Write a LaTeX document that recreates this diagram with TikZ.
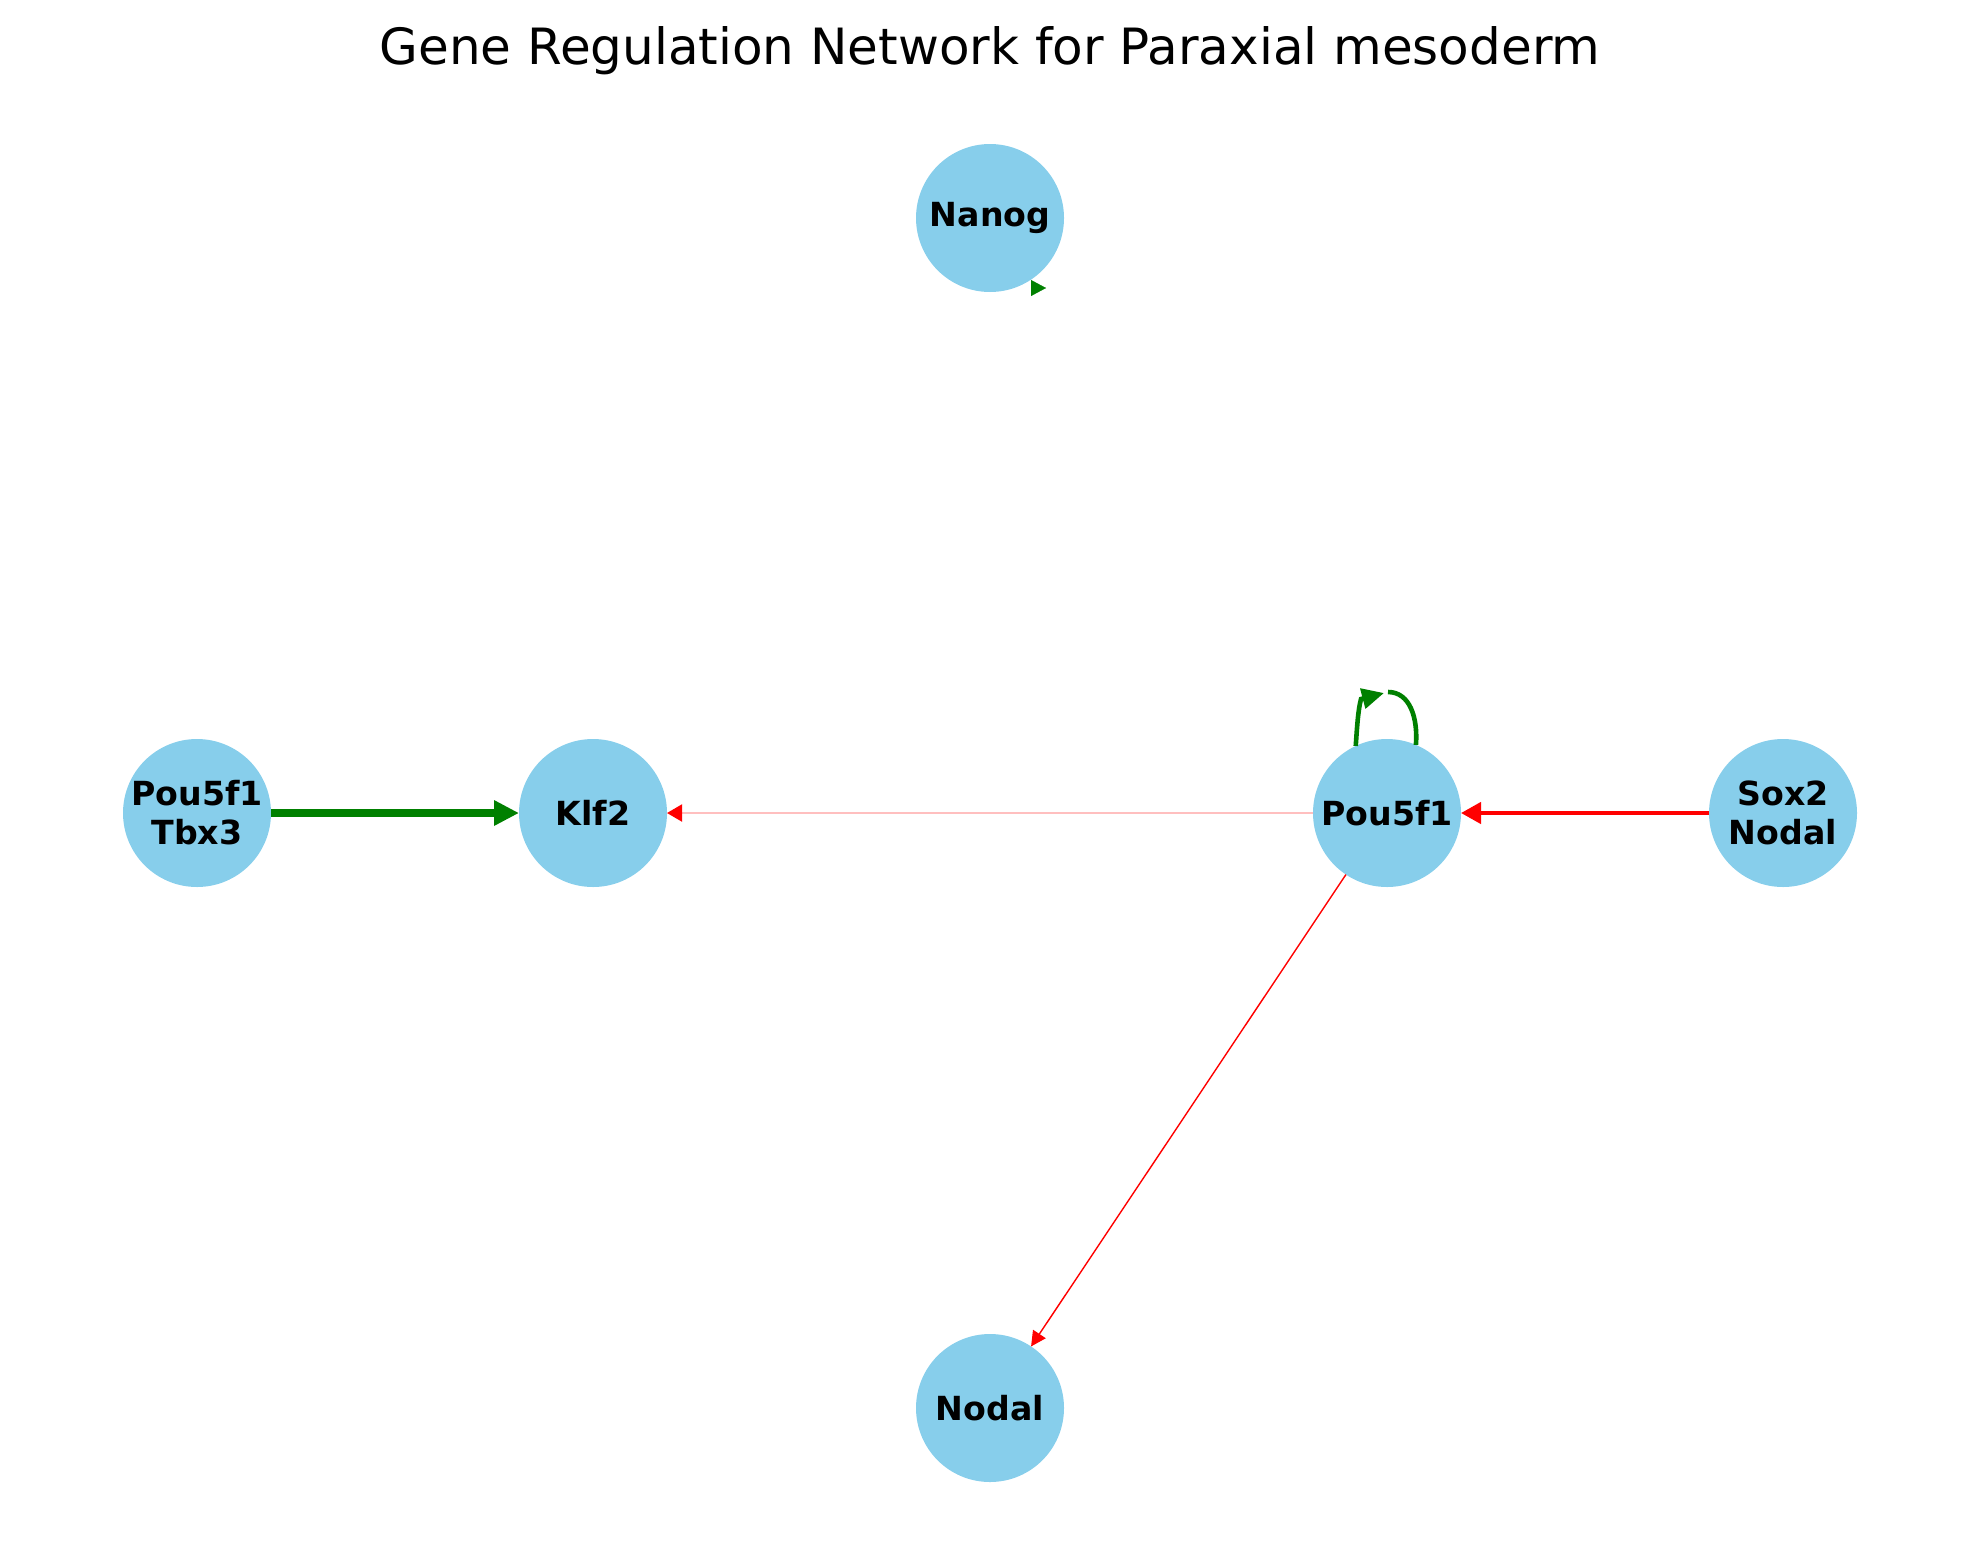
\documentclass[tikz,border=0pt]{standalone}
\usepackage{fontspec}
\setmainfont{DejaVu Sans}
\usetikzlibrary{arrows.meta,positioning}
\definecolor{skyblue}{HTML}{87CEEB}
\definecolor{mplgreen}{HTML}{008000}

\begin{document}
\begin{tikzpicture}[x=0.5pt, y=-0.5pt,
        gene/.style={circle, fill=skyblue, minimum size=74pt, inner sep=0pt, outer sep=0pt,
                align=center, font=\bfseries\fontsize{16.6}{19.5}\selectfont},
        activates/.style={draw=mplgreen, line width=#1},
        represses/.style={draw=red, line width=#1}]
        \useasboundingbox (0, 0) rectangle (1980, 1563);
        \node[font=\fontsize{25}{30}\selectfont] (title) at (990, 51) {Gene Regulation Network for Paraxial mesoderm};

        \node[gene] (nanog) at (990, 218) {Nanog};
        \node[gene] (tbx3) at (197, 813) {Pou5f1\\Tbx3};
        \node[gene] (klf2) at (593, 813) {Klf2};
        \node[gene] (pou5f1) at (1387, 813) {Pou5f1};
        \node[gene] (sox2) at (1783, 813) {Sox2\\Nodal};
        \node[gene] (nodal) at (990, 1408) {Nodal};

        \draw[activates=3.7pt, -{Triangle[length=12.5pt, width=12pt]}] (tbx3) -- (klf2);
        \draw[represses=1pt, draw=red!25, -{Triangle[length=7.5pt, width=8.5pt, color=red]}] (pou5f1) -- (klf2);
        \draw[represses=2.2pt, -{Triangle[length=10pt, width=10.5pt]}] (sox2) -- (pou5f1);
        \draw[represses=0.7pt, -{Triangle[length=7.5pt, width=7.5pt]}] (pou5f1) -- (nodal);

        % self loops
        \coordinate (loop tip) at (1384, 693);
        \coordinate (loop back) at (1388, 692);
        \draw[activates=2.3pt, -{Triangle[length=11pt, width=10pt]}] (pou5f1.115)
                .. controls (1357, 728) and (1358, 710) .. (1361, 699) -- (loop tip);
        \draw[activates=2.3pt] (loop back) .. controls (1410, 692) and (1418, 718) .. (pou5f1.67);
        \coordinate (nanog tail) at (1031, 288);
        \coordinate (nanog tip) at (1046, 288);
        \draw[activates=0.1pt, -{Triangle[length=7.5pt, width=8pt]}] (nanog tail) -- (nanog tip);
\end{tikzpicture}
\end{document}
